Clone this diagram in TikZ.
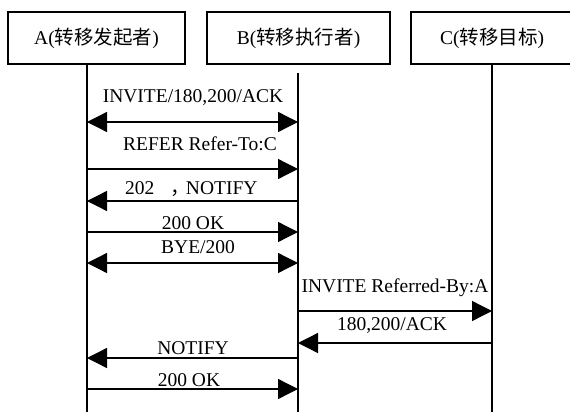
\documentclass[tikz,border=0pt]{standalone}
\usepackage{fontspec}
\setmainfont{Liberation Serif}
\newfontfamily\cjk{Noto Sans CJK SC}
\usetikzlibrary{arrows.meta}
\begin{document}
\begin{tikzpicture}[x=1pt,y=-1pt,
  box/.style={draw,line width=1.5pt,minimum height=52pt,inner sep=0pt,font=\fontsize{19.5}{22}\selectfont},
  life/.style={line width=1.3pt},
  msg/.style={line width=1.3pt,-{Triangle[length=20pt,width=20pt]}},
  dmsg/.style={line width=1.3pt,{Triangle[length=20pt,width=20pt]}-{Triangle[length=20pt,width=20pt]}},
  lbl/.style={anchor=base,inner sep=0pt,font=\fontsize{19.5}{22}\selectfont}]
\useasboundingbox (0,0) rectangle (570,412);
\clip (0,0) rectangle (570,412);
% participants
\node[box,minimum width=177pt] (A) at (96.5,38) {A({\cjk 转移发起者})};
\node[box,minimum width=183pt] (B) at (298.5,38) {B({\cjk 转移执行者})};
\node[box,minimum width=162pt] (C) at (492,38) {C({\cjk 转移目标})};
% lifelines
\coordinate (aT) at (87,64);
\coordinate (aB) at (87,414);
\coordinate (bT) at (298,73);
\coordinate (bB) at (298,414);
\coordinate (cT) at (492,64);
\coordinate (cB) at (492,414);
\draw[life] (aT) -- (aB);
\draw[life] (bT) -- (bB);
\draw[life] (cT) -- (cB);
% messages
\node[lbl] (m1) at (193,102.7) {INVITE/180,200/ACK};
\draw[dmsg] (aT |- 0,122) -- (bT |- 0,122);
\node[lbl] (m2) at (200,150) {REFER Refer-To:C};
\draw[msg] (aT |- 0,169) -- (bT |- 0,169);
\node[lbl,anchor=base west] (m3) at (125,194) {202\hspace{16pt}{\cjk ，}\kern-4ptNOTIFY};
\draw[msg] (bT |- 0,201) -- (aT |- 0,201);
\node[lbl] (m4) at (193,229) {200 OK};
\draw[msg] (aT |- 0,232) -- (bT |- 0,232);
\node[lbl] (m5) at (198,253) {BYE/200};
\draw[dmsg] (aT |- 0,263) -- (bT |- 0,263);
\node[lbl] (m6) at (395,292) {INVITE Referred-By:A};
\draw[msg] (bT |- 0,311) -- (cT |- 0,311);
\node[lbl] (m7) at (392,330) {180,200/ACK};
\draw[msg] (cT |- 0,343) -- (bT |- 0,343);
\node[lbl] (m8) at (193,354) {NOTIFY};
\draw[msg] (bT |- 0,358) -- (aT |- 0,358);
\node[lbl] (m9) at (189,386) {200 OK};
\draw[msg] (aT |- 0,389) -- (bT |- 0,389);
\end{tikzpicture}
\end{document}
